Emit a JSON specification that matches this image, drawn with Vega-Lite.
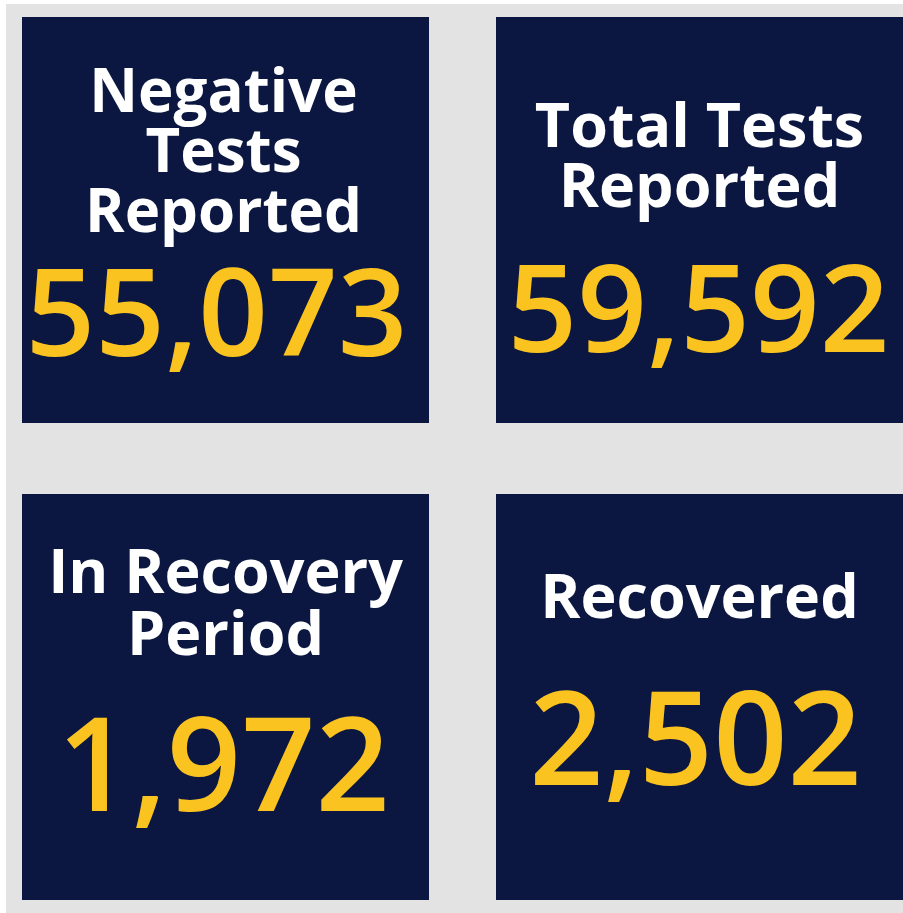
{
  "$schema": "https://vega.github.io/schema/vega-lite/v6.json",
  "width": 903,
  "height": 913,
  "autosize": {"type": "fit", "contains": "padding"},
  "padding": {"left": 6, "top": 4, "right": 0, "bottom": 0},
  "background": "#ffffff",
  "config": {"view": {"fill": "#e3e3e3", "stroke": null}, "font": "Open Sans"},
  "data": {
    "values": [
      {"tile": "neg", "title": "Negative\nTests\nReported", "value": 55073, "col": 0, "row": 0},
      {"tile": "tot", "title": "Total Tests\nReported", "value": 59592, "col": 1, "row": 0},
      {"tile": "rec_period", "title": "In Recovery\nPeriod", "value": 1972, "col": 0, "row": 1},
      {"tile": "recovered", "title": "Recovered", "value": 2502, "col": 1, "row": 1}
    ]
  },
  "encoding": {
    "x": {"field": "col", "type": "ordinal", "scale": {"type": "band", "domain": [0, 1], "range": [16, 897], "paddingInner": 0.14135, "paddingOuter": 0}, "axis": null},
    "y": {"field": "row", "type": "ordinal", "scale": {"type": "band", "domain": [0, 1], "range": [13, 896], "paddingInner": 0.1488, "paddingOuter": 0}, "axis": null}
  },
  "layer": [
    {"mark": {"type": "rect", "color": "#0b1741"}},
    {
      "transform": [{"filter": "datum.tile == 'neg'"}],
      "mark": {"type": "text", "lineBreak": "\n", "fontSize": 60, "fontWeight": "bold", "color": "#ffffff", "baseline": "alphabetic", "align": "center", "lineHeight": 60, "dy": 95, "dx": -2},
      "encoding": {"y": {"field": "row", "type": "ordinal", "bandPosition": 0}, "text": {"field": "title"}}
    },
    {
      "transform": [{"filter": "datum.tile == 'tot'"}],
      "mark": {"type": "text", "lineBreak": "\n", "fontSize": 61, "fontWeight": "bold", "color": "#ffffff", "baseline": "alphabetic", "align": "center", "lineHeight": 60, "dy": 130},
      "encoding": {"y": {"field": "row", "type": "ordinal", "bandPosition": 0}, "text": {"field": "title"}}
    },
    {
      "transform": [{"filter": "datum.tile == 'rec_period'"}],
      "mark": {"type": "text", "lineBreak": "\n", "fontSize": 61, "fontWeight": "bold", "color": "#ffffff", "baseline": "alphabetic", "align": "center", "lineHeight": 62, "dy": 99},
      "encoding": {"y": {"field": "row", "type": "ordinal", "bandPosition": 0}, "text": {"field": "title"}}
    },
    {
      "transform": [{"filter": "datum.tile == 'recovered'"}],
      "mark": {"type": "text", "lineBreak": "\n", "fontSize": 61, "fontWeight": "bold", "color": "#ffffff", "baseline": "alphabetic", "align": "center", "lineHeight": 60, "dy": 124},
      "encoding": {"y": {"field": "row", "type": "ordinal", "bandPosition": 0}, "text": {"field": "title"}}
    },
    {
      "transform": [{"filter": "datum.tile == 'neg'"}],
      "mark": {"type": "text", "fontSize": 122, "fontWeight": 600, "color": "#fbc31f", "baseline": "alphabetic", "align": "center", "dy": 339, "dx": -9},
      "encoding": {"y": {"field": "row", "type": "ordinal", "bandPosition": 0}, "text": {"field": "value", "type": "quantitative", "format": ","}}
    },
    {
      "transform": [{"filter": "datum.tile == 'tot'"}],
      "mark": {"type": "text", "fontSize": 122, "fontWeight": 600, "color": "#fbc31f", "baseline": "alphabetic", "align": "center", "dy": 335, "dx": -1},
      "encoding": {"y": {"field": "row", "type": "ordinal", "bandPosition": 0}, "text": {"field": "value", "type": "quantitative", "format": ","}}
    },
    {
      "transform": [{"filter": "datum.tile == 'rec_period'"}],
      "mark": {"type": "text", "fontSize": 130, "fontWeight": 600, "color": "#fbc31f", "baseline": "alphabetic", "align": "center", "dy": 317, "dx": -2},
      "encoding": {"y": {"field": "row", "type": "ordinal", "bandPosition": 0}, "text": {"field": "value", "type": "quantitative", "format": ","}}
    },
    {
      "transform": [{"filter": "datum.tile == 'recovered'"}],
      "mark": {"type": "text", "fontSize": 130, "fontWeight": 600, "color": "#fbc31f", "baseline": "alphabetic", "align": "center", "dy": 291, "dx": -4},
      "encoding": {"y": {"field": "row", "type": "ordinal", "bandPosition": 0}, "text": {"field": "value", "type": "quantitative", "format": ","}}
    }
  ]
}
